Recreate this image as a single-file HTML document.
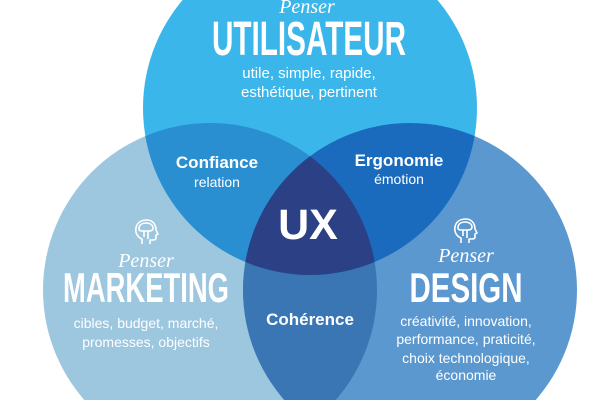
<!DOCTYPE html>
<html><head><meta charset="utf-8"><style>html,body{margin:0;padding:0;background:#fff;width:600px;height:400px;overflow:hidden}</style></head>
<body>
<svg width="600" height="400" viewBox="0 0 600 400" xmlns="http://www.w3.org/2000/svg" font-family="Liberation Sans, sans-serif">
<defs>
<clipPath id="cT"><circle cx="310" cy="108" r="167"/></clipPath>
<clipPath id="cL"><circle cx="210" cy="290" r="167"/></clipPath>
<clipPath id="cR"><circle cx="410" cy="290" r="167"/></clipPath>
<g id="head" fill="none" stroke="#fff" stroke-width="1.6" stroke-linejoin="round">
<path d="M-4 11 V6 C-9 4 -11 -1 -10 -5 C-9 -11 -4 -13 1 -13 C7 -13 10 -8 10 -3 L12 1 L10 2 V5 C10 7 8 7 6 7 H4 V11"/>
<path d="M-7 -4 C-7 -9 -3 -10 0 -10 C4 -10 7 -8 7 -5 C7 -2 4 -2 2 -2 V6 M-2 -2 V4 M-7 -4 C-7 -2 -5 -2 -2 -2 H2"/>
</g>
</defs>
<circle cx="210" cy="290" r="167" fill="#9dc6df"/>
<circle cx="410" cy="290" r="167" fill="#5a98cf"/>
<circle cx="310" cy="108" r="167" fill="#3bb6eb"/>
<g clip-path="url(#cL)"><circle cx="410" cy="290" r="167" fill="#3a76b4"/></g>
<g clip-path="url(#cT)"><circle cx="210" cy="290" r="167" fill="#2a8fd0"/><circle cx="410" cy="290" r="167" fill="#1a6bbd"/></g>
<g clip-path="url(#cT)"><g clip-path="url(#cL)"><circle cx="410" cy="290" r="167" fill="#2c4185"/></g></g>

<g fill="#fff" text-anchor="middle">
<text x="307" y="13" font-family="Liberation Serif, serif" font-style="italic" font-size="20">Penser</text>
<text x="309" y="55" font-size="48" font-weight="bold" textLength="194" lengthAdjust="spacingAndGlyphs">UTILISATEUR</text>
<text x="309" y="78" font-size="15">utile, simple, rapide,</text>
<text x="309" y="97" font-size="15">esthétique, pertinent</text>
<text x="217" y="168" font-size="17" font-weight="bold">Confiance</text>
<text x="217" y="187" font-size="14">relation</text>
<text x="399" y="166" font-size="17" font-weight="bold">Ergonomie</text>
<text x="399" y="184" font-size="14">émotion</text>
<text x="308" y="239" font-size="43" font-weight="bold">UX</text>
<text x="310" y="325" font-size="17" font-weight="bold">Cohérence</text>
<text x="146" y="267" font-family="Liberation Serif, serif" font-style="italic" font-size="20">Penser</text>
<text x="146" y="302" font-size="42" font-weight="bold" textLength="166" lengthAdjust="spacingAndGlyphs">MARKETING</text>
<text x="146" y="328" font-size="14">cibles, budget, marché,</text>
<text x="146" y="347" font-size="14">promesses, objectifs</text>
<text x="466" y="262" font-family="Liberation Serif, serif" font-style="italic" font-size="20">Penser</text>
<text x="466" y="302" font-size="42" font-weight="bold" textLength="113" lengthAdjust="spacingAndGlyphs">DESIGN</text>
<text x="466" y="326" font-size="14">créativité, innovation,</text>
<text x="466" y="344" font-size="14">performance, praticité,</text>
<text x="466" y="363" font-size="14">choix technologique,</text>
<text x="466" y="380" font-size="14">économie</text>
</g>
<use href="#head" x="146" y="233"/>
<use href="#head" x="465" y="232"/>
</svg>
</body></html>
